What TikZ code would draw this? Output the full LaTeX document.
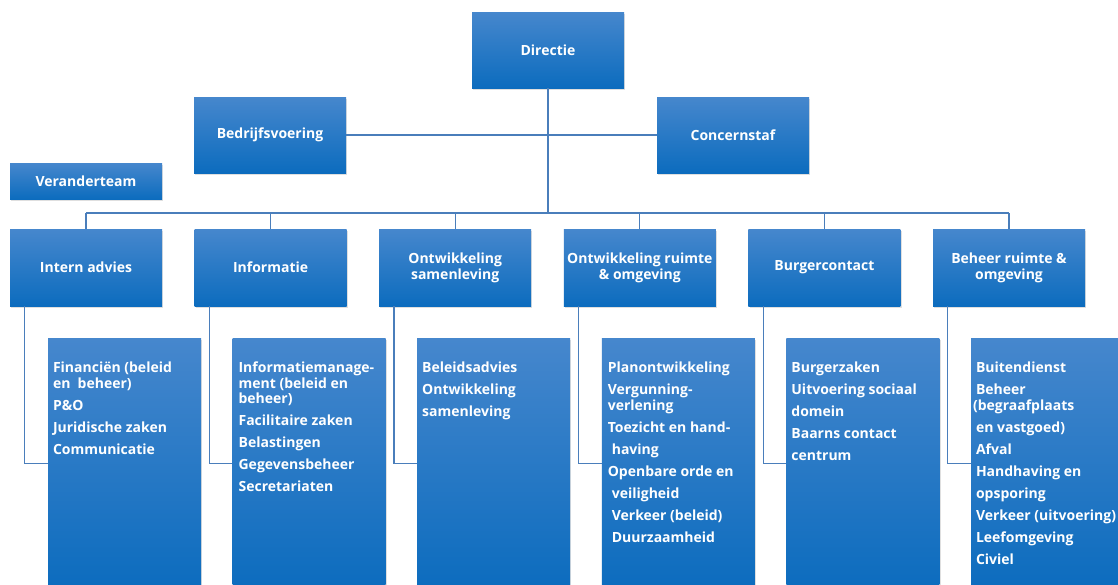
\documentclass[tikz,border=0pt]{standalone}
\usepackage{fontspec}
\setmainfont{Open Sans}
\usetikzlibrary{positioning, shadows}
\definecolor{boxtop}{RGB}{70,135,205}
\definecolor{boxbot}{RGB}{12,108,190}
\definecolor{linkblue}{RGB}{74,126,187}
\tikzset{
unit/.style={top color=boxtop, bottom color=boxbot, text=white, align=center,
  font=\bfseries\fontsize{14}{16}\selectfont, minimum width=152pt, inner sep=2pt,
  drop shadow={opacity=0.25, shadow xshift=1.2pt, shadow yshift=-1.5pt}}, % the blue boxes
subunit/.style={unit, anchor=north west, minimum width=153pt, minimum height=250pt}, % the tall boxes below
tasks/.style={text=white, align=left, anchor=north west, inner sep=0pt,
  font=\bfseries\fontsize{14}{15.5}\selectfont}, % the list of tasks in a tall box
link/.style={draw=linkblue, line width=1.2pt}, % the connecting lines
node distance=184.6pt, % distance between the centres of the units in a row
}

\begin{document}
\begin{tikzpicture}[x=1pt, y=-1pt]
    \useasboundingbox (0,0) rectangle (1118,584);
    \clip (0,0) rectangle (1118,584);
    \fill[white] (0,0) rectangle (1118,584);
    % top of the organisation
    \node[unit, minimum height=76pt] (dir) at (548,50) {Directie};
    \node[unit, minimum height=76pt] (bedr) at (270,135) {Bedrijfsvoering};
    \node[unit, minimum height=76pt] (conc) at (733,135) {Concernstaf};
    \node[unit, minimum height=36pt] (verander) at (86,181) {Veranderteam};
    % the six units
    \node[unit, minimum height=77pt] (intern) at (86,267.5) {Intern advies};
    \node[unit, minimum height=77pt, right of=intern] (info) {Informatie};
    \node[unit, minimum height=77pt, right of=info] (samen) {Ontwikkeling\\samenleving};
    \node[unit, minimum height=77pt, right of=samen] (ruimte) {Ontwikkeling ruimte\\\& omgeving};
    \node[unit, minimum height=77pt, right of=ruimte] (burger) {Burgercontact};
    \node[unit, minimum height=77pt, right of=burger] (beheer) {Beheer ruimte \&\\omgeving};
    % the tall boxes below every unit
    \foreach \n in {intern, info, samen, ruimte, burger, beheer}
        \node[subunit] (\n-sub) at ([xshift=38pt, yshift=-32pt]\n.south west) {};
    \node[tasks] at ([xshift=5pt, yshift=-23.5pt]intern-sub.north west)
        {Financiën (beleid\\en\ \ beheer)\\[6.5pt] P\&O\\[6.5pt] Juridische zaken\\[6.5pt] Communicatie};
    \node[tasks] at ([xshift=6pt, yshift=-23.5pt]info-sub.north west)
        {Informatiemanage-\\ment (beleid en\\beheer)\\[6.5pt] Facilitaire zaken\\[6.5pt] Belastingen\\[6.5pt]
         Gegevensbeheer\\[6.5pt] Secretariaten};
    \node[tasks] at ([xshift=5pt, yshift=-23.5pt]samen-sub.north west)
        {Beleidsadvies\\[6.5pt] Ontwikkeling\\[6.5pt] samenleving};
    \node[tasks] at ([xshift=6pt, yshift=-23.5pt]ruimte-sub.north west)
        {Planontwikkeling\\[6.5pt] Vergunning-\\verlening\\[6.5pt] Toezicht en hand-\\[6.5pt] \hspace{4pt}having\\[6.5pt]
         Openbare orde en\\[6.5pt] \hspace{4pt}veiligheid\\[6.5pt] \hspace{4pt}Verkeer (beleid)\\[6.5pt] \hspace{4pt}Duurzaamheid};
    \node[tasks] at ([xshift=5pt, yshift=-23.5pt]burger-sub.north west)
        {Burgerzaken\\[6.5pt] Uitvoering sociaal\\[6.5pt] domein\\[6.5pt] Baarns contact\\[6.5pt] centrum};
    \node[tasks] at ([xshift=5pt, yshift=-23.5pt]beheer-sub.north west)
        {Buitendienst\\[6.5pt] Beheer\\\hspace{-3pt}(begraafplaats\\[6.5pt] en vastgoed)\\[6.5pt] Afval\\[6.5pt]
         Handhaving en\\[6.5pt] opsporing\\[6.5pt] Verkeer (uitvoering)\\[6.5pt] Leefomgeving\\[6.5pt] Civiel};
    % lines
    \coordinate (bus) at (548,213);
    \draw[link] (bedr.east) -- (conc.west);
    \draw[link] (dir.south) -- (bus);
    \draw[link] (intern.north |- bus) -- (beheer.north |- bus);
    \foreach \n in {intern, info, samen, ruimte, burger, beheer}{
        \draw[link] (\n.north |- bus) -- (\n.north);
        \draw[link] ([xshift=15pt]\n.south west) |- (\n-sub.west);
    }
\end{tikzpicture}
\end{document}
